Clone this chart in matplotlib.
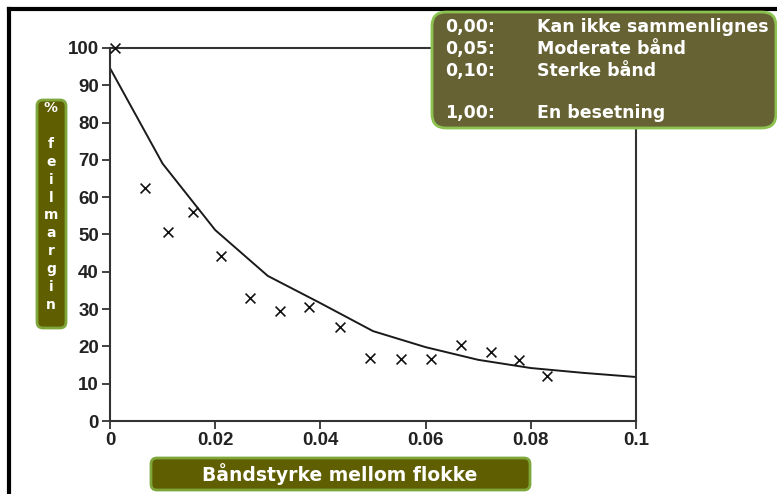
import matplotlib.pyplot as plt
from matplotlib.patches import FancyBboxPatch
from matplotlib.lines import Line2D

# Data
styrke = [0.001, 0.0066, 0.011, 0.0158, 0.0211, 0.0266, 0.0323, 0.0378, 0.0437,
          0.0494, 0.0553, 0.061, 0.0667, 0.0724, 0.0778, 0.0831]
feil = [100, 62.5, 50.7, 56.0, 44.2, 33.0, 29.5, 30.6, 25.2,
        16.9, 16.6, 16.6, 20.4, 18.5, 16.4, 12.1]

kurve_x = [0, 0.01, 0.02, 0.03, 0.04, 0.05, 0.06, 0.07, 0.08, 0.09, 0.1]
kurve_y = [94.6, 69.0, 51.2, 38.9, 31.6, 24.1, 19.8, 16.4, 14.2, 12.9, 11.8]

xticks = [0, 0.02, 0.04, 0.06, 0.08, 0.1]
xticklabels = ['0', '0.02', '0.04', '0.06', '0.08', '0.1']
yticks = [0, 10, 20, 30, 40, 50, 60, 70, 80, 90, 100]

legend_keys = ['0,00:', '0,05:', '0,10:', '', '1,00:']
legend_text = ['Kan ikke sammenlignes', 'Moderate bånd', 'Sterke bånd', '', 'En besetning']

W, H = 777, 494
fig = plt.figure(figsize=(W / 100, H / 100), dpi=100)

def px(x, y):
    # pixel coords (top-left origin) -> inches for dpi_scale_trans
    return x / 100, (H - y) / 100

ax = fig.add_axes([110 / W, 1 - 421 / H, (636 - 110) / W, (421 - 48) / H])
ax.plot(kurve_x, kurve_y, color='#1a1a1a', lw=1.4)
ax.scatter(styrke, feil, marker='x', s=50, color='#111111', linewidths=1.2, clip_on=False, zorder=3)
ax.set_xlim(0, 0.1)
ax.set_ylim(0, 100)
ax.set_xticks(xticks)
ax.set_xticklabels(xticklabels)
ax.set_yticks(yticks)
for s in ax.spines.values():
    s.set_color('#333333')
    s.set_linewidth(1.5)
ax.tick_params(direction='out', length=6, width=1.3, color='#333333', pad=2)
for lab in ax.get_xticklabels() + ax.get_yticklabels():
    lab.set_fontfamily('Liberation Sans')
    lab.set_fontweight('bold')
    lab.set_fontsize(13.5)
    lab.set_color('#222222')

# black frame at left and top
fig.add_artist(Line2D([9 / W, 9 / W], [0, 1 - 9 / H], color='black', lw=3, transform=fig.transFigure))
fig.add_artist(Line2D([9 / W, 1], [1 - 9 / H, 1 - 9 / H], color='black', lw=3, transform=fig.transFigure))

def box(x0, y0, x1, y1, fc, ec, r=8):
    bx, by = px(x0, y1)
    p = FancyBboxPatch((bx, by), (x1 - x0) / 100, (y1 - y0) / 100,
                       boxstyle='round,pad=0,rounding_size=%f' % (r / 100),
                       transform=fig.dpi_scale_trans, fc=fc, ec=ec, lw=2, zorder=5)
    fig.add_artist(p)

# legend box
box(432, 12, 776, 128, '#666233', '#8cc350', r=14)
ys = [27, 49, 71, 92, 113]
for y, k, t in zip(ys, legend_keys, legend_text):
    fig.text(*px(445, y), k, transform=fig.dpi_scale_trans, color='white', fontsize=12.5,
             fontweight='bold', family='DejaVu Sans', va='center', ha='left', zorder=6)
    fig.text(*px(537, y), t, transform=fig.dpi_scale_trans, color='white', fontsize=12.5,
             fontweight='bold', family='DejaVu Sans', va='center', ha='left', zorder=6)

# y label box
box(37, 100, 66, 328, '#5f5e00', '#7fa63a', r=6)
letters = ['%', '', 'f', 'e', 'i', 'l', 'm', 'a', 'r', 'g', 'i', 'n']
for i, ch in enumerate(letters):
    if ch:
        fig.text(*px(51, 108 + i * 17.9), ch, transform=fig.dpi_scale_trans, color='white',
                 fontsize=10, fontweight='bold', family='DejaVu Sans', ha='center', va='center', zorder=6)

# x label box
box(151, 458, 530, 490, '#5f5e00', '#7fa63a', r=6)
fig.text(*px(340, 474), 'Båndstyrke mellom flokke', transform=fig.dpi_scale_trans, color='white',
         fontsize=13.5, fontweight='bold', family='DejaVu Sans', ha='center', va='center', zorder=6)

fig.savefig('out.png', dpi=100)
